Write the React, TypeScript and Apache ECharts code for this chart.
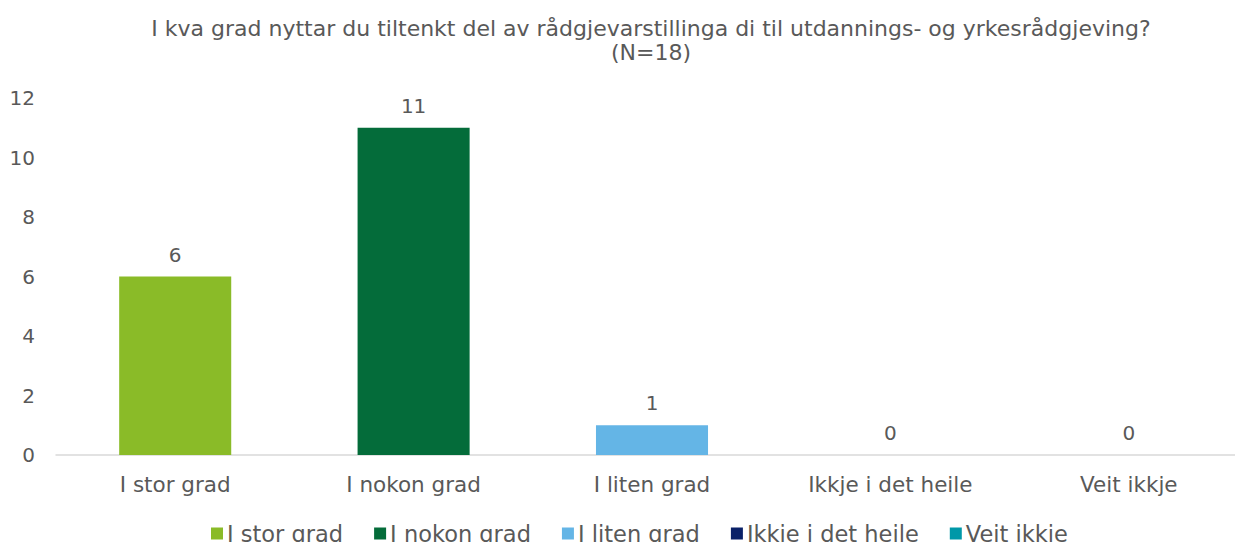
import React, { useEffect, useRef } from "react";
import * as echarts from "echarts";

const categories = ["I stor grad", "I nokon grad", "I liten grad", "Ikkje i det heile", "Veit ikkje"];
const values = [6, 11, 1, 0, 0];
const colors = ["#8ABB28", "#046C3A", "#64B5E6", "#0A2168", "#0098A8"];
const yTicks = { min: 0, max: 12, interval: 2 };
const titleText = "I kva grad nyttar du tiltenkt del av rådgjevarstillinga di til utdannings- og yrkesrådgjeving?\n(N=18)";

const FONT = "'DejaVu Sans', Verdana, sans-serif";
const GREY = "#595959";

export default function App() {
  const ref = useRef<HTMLDivElement>(null);
  useEffect(() => {
    if (!ref.current) return;
    const chart = echarts.init(ref.current, undefined, { renderer: "svg" });
    const series = categories.map((name, i) => ({
      name,
      type: "bar",
      stack: "all",
      barWidth: "47%",
      data: categories.map((_, j) => (j === i ? values[i] : "-")),
      itemStyle: { color: colors[i] },
      label: {
        show: true,
        position: "top",
        distance: 12,
        color: GREY,
        fontSize: 20,
        fontFamily: FONT,
      },
    }));
    chart.setOption({
      animation: false,
      textStyle: { fontFamily: FONT },
      title: {
        text: titleText,
        left: 646,
        textAlign: "center",
        top: 11,
        textStyle: { color: GREY, fontSize: 22, fontWeight: "normal", lineHeight: 24, fontFamily: FONT },
      },
      grid: { left: 56, width: 1192, top: 98, bottom: 87, containLabel: false, outerBoundsMode: "none" },
      legend: {
        data: categories,
        top: 517,
        left: 206,
        icon: "rect",
        itemWidth: 12,
        itemHeight: 12,
        itemGap: 31,
        textStyle: { color: GREY, fontSize: 22.5, fontFamily: FONT, padding: [0, 0, 0, -1] },
      },
      xAxis: {
        type: "category",
        data: categories,
        axisLine: { lineStyle: { color: "#D9D9D9", width: 1.5 } },
        axisTick: { show: false },
        axisLabel: { color: GREY, fontSize: 21.5, fontFamily: FONT, margin: 18 },
      },
      yAxis: {
        type: "value",
        min: yTicks.min,
        max: yTicks.max,
        interval: yTicks.interval,
        axisLine: { show: false },
        axisTick: { show: false },
        splitLine: { show: false },
        axisLabel: { color: GREY, fontSize: 20, fontFamily: FONT, margin: 21 },
      },
      series,
    });
    return () => chart.dispose();
  }, []);
  return <div ref={ref} style={{ width: 1235, height: 542, position: "absolute", left: 0, top: 0 }} />;
}
